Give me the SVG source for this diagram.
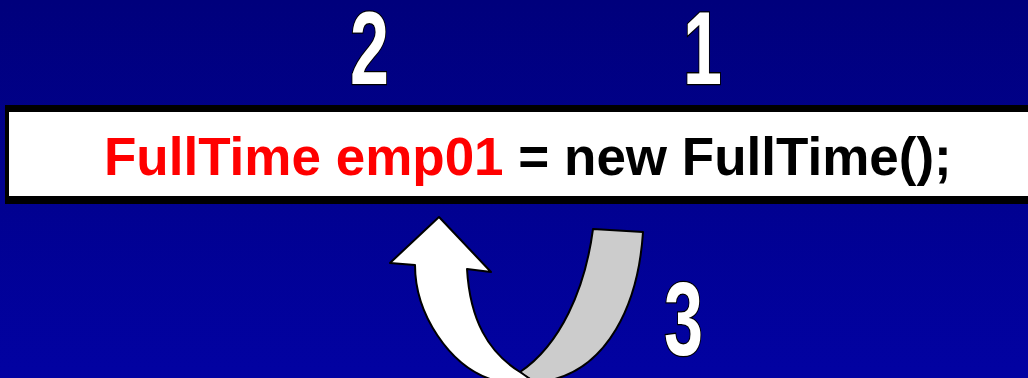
<svg xmlns="http://www.w3.org/2000/svg" width="1028" height="378" viewBox="0 0 1028 378">
<defs>
<linearGradient id="bg" x1="0" y1="0" x2="0" y2="1">
<stop offset="0" stop-color="#00007c"/>
<stop offset="1" stop-color="#0202a2"/>
</linearGradient>
<style>
.num{font-family:"Liberation Sans",Arial,sans-serif;font-weight:bold;font-size:100px;fill:#fff;stroke:#000;stroke-width:2.5px;paint-order:stroke;}
.code{font-family:"Liberation Sans",Arial,sans-serif;font-weight:bold;font-size:53px;}
.shape{stroke:#000;stroke-width:2;stroke-linejoin:round;}
</style>
</defs>
<rect x="0" y="0" width="1028" height="378" fill="url(#bg)"/>
<g id="label-2"><text class="num" transform="translate(350,84) scale(0.7,1.04)">2</text></g>
<g id="label-1"><text class="num" transform="translate(683,84) scale(0.7,1.04)">1</text></g>
<g id="label-3"><text class="num" transform="translate(664,355) scale(0.7,1.04)">3</text></g>
<g id="statement">
<rect x="5" y="105" width="1030" height="99" fill="#000"/>
<rect x="9" y="112" width="1030" height="84" fill="#fff"/>
<text class="code" x="104" y="175"><tspan fill="#ff0000">FullTime emp01</tspan><tspan fill="#000"> = new FullTime();</tspan></text>
</g>
<g id="connectors">
<path class="shape" fill="#cccccc" d="M593,229 L643,232 C638,310 605,365 555,379 L530,379 C525,377 522,374 520,372 C560,345 585,290 593,229 Z"/>
<path class="shape" fill="#ffffff" d="M439,217 L491,272 L467,269 C470,320 488,352 520,372 C523,374 526,376 530,379 L490,379 C450,365 415,315 415,265 L390,263 Z"/>
</g>
</svg>
